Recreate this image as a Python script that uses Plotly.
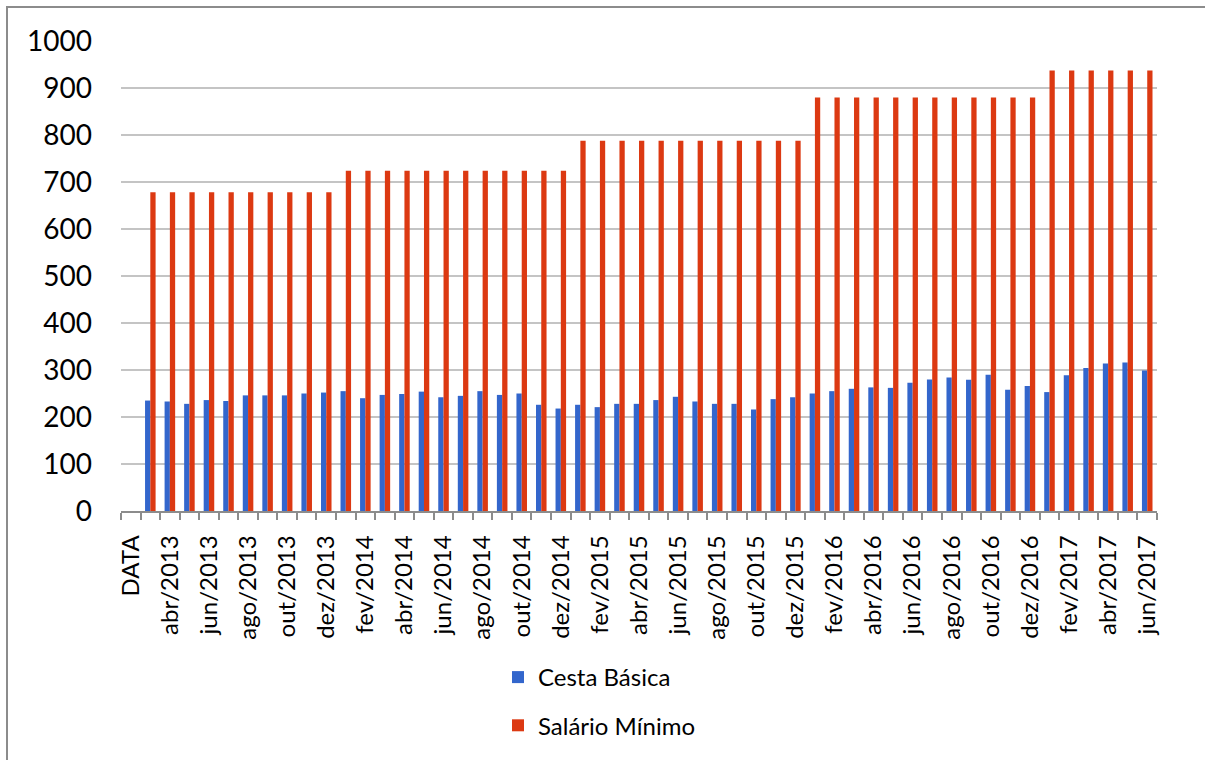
import plotly.graph_objects as go

# Monthly categories (first slot is the spreadsheet header, left empty)
categorias = [
    "DATA",
    "mar/2013", "abr/2013", "mai/2013", "jun/2013", "jul/2013", "ago/2013",
    "set/2013", "out/2013", "nov/2013", "dez/2013",
    "jan/2014", "fev/2014", "mar/2014", "abr/2014", "mai/2014", "jun/2014",
    "jul/2014", "ago/2014", "set/2014", "out/2014", "nov/2014", "dez/2014",
    "jan/2015", "fev/2015", "mar/2015", "abr/2015", "mai/2015", "jun/2015",
    "jul/2015", "ago/2015", "set/2015", "out/2015", "nov/2015", "dez/2015",
    "jan/2016", "fev/2016", "mar/2016", "abr/2016", "mai/2016", "jun/2016",
    "jul/2016", "ago/2016", "set/2016", "out/2016", "nov/2016", "dez/2016",
    "jan/2017", "fev/2017", "mar/2017", "abr/2017", "mai/2017", "jun/2017",
]

cesta_basica = [
    None,
    235, 233, 228, 236, 234, 246, 246, 246, 250, 252,
    255, 240, 247, 249, 254, 242, 245, 255, 247, 250, 226, 218,
    226, 221, 228, 228, 236, 243, 233, 228, 228, 216, 238, 242,
    250, 255, 260, 263, 262, 273, 280, 284, 279, 290, 258, 266,
    253, 289, 304, 314, 316, 299,
]

salario_minimo = [
    None,
    678, 678, 678, 678, 678, 678, 678, 678, 678, 678,
    724, 724, 724, 724, 724, 724, 724, 724, 724, 724, 724, 724,
    788, 788, 788, 788, 788, 788, 788, 788, 788, 788, 788, 788,
    880, 880, 880, 880, 880, 880, 880, 880, 880, 880, 880, 880,
    937, 937, 937, 937, 937, 937,
]

y_ticks = [0, 100, 200, 300, 400, 500, 600, 700, 800, 900, 1000]

# Only every other month gets a visible label
rotulos_x = [c if i % 2 == 0 else "" for i, c in enumerate(categorias)]

FONT = "Lato, 'Open Sans', sans-serif"
W, H = 1205, 760
M_L, M_R, M_T, M_B = 121, 48, 41, 249

fig = go.Figure()
fig.add_trace(go.Bar(
    x=categorias, y=cesta_basica, name="Cesta Básica",
    marker=dict(color="#3366cc", line=dict(width=0)),
    legendgroup="a",
))
fig.add_trace(go.Bar(
    x=categorias, y=salario_minimo, name="Salário Mínimo",
    marker=dict(color="#dc3912", line=dict(width=0)),
    legendgroup="b",
))

pw = W - M_L - M_R
ph = H - M_T - M_B

fig.update_layout(
    width=W, height=H,
    margin=dict(l=M_L, r=M_R, t=M_T, b=M_B),
    paper_bgcolor="white", plot_bgcolor="white",
    barmode="group", bargap=0.46, bargroupgap=0,
    font=dict(family=FONT, color="#000000"),
    showlegend=True,
    legend=dict(
        orientation="v",
        x=(498 - M_L) / pw, xanchor="left",
        y=-(655 - (M_T + ph)) / ph, yanchor="top",
        font=dict(size=24, family=FONT, color="#000000"),
        tracegroupgap=14,
        traceorder="grouped",
        bgcolor="rgba(0,0,0,0)",
    ),
    xaxis=dict(
        type="category",
        categoryorder="array", categoryarray=categorias,
        tickmode="array", tickvals=categorias, ticktext=rotulos_x,
        tickson="boundaries",
        ticks="outside", ticklen=7, tickwidth=1.5, tickcolor="#8c8c8c",
        tickangle=-90,
        tickfont=dict(size=24, family=FONT, color="#000000"),
        ticklabelstandoff=13,
        showline=True, linecolor="#8c8c8c", linewidth=1.5,
        showgrid=False, zeroline=False,
        range=[-0.5, len(categorias) - 0.5],
    ),
    yaxis=dict(
        range=[0, 1000],
        tickmode="array", tickvals=y_ticks,
        tickfont=dict(size=28, family=FONT, color="#000000"),
        ticklabelstandoff=28,
        ticks="",
        showgrid=True, gridcolor="#c4c4c4", gridwidth=1.5,
        zeroline=False, showline=False,
    ),
    shapes=[
        # outer chart frame (only its top and left edges fall inside the page)
        dict(
            type="rect", xref="paper", yref="paper",
            x0=(7 - M_L) / pw, x1=(W + 20 - M_L) / pw,
            y0=-(H + 20 - M_T - ph) / ph, y1=1 + (M_T - 7) / ph,
            line=dict(color="#8c8c8c", width=2),
            fillcolor="rgba(0,0,0,0)", layer="below",
        ),
    ],
)

fig.write_html("out.html")
